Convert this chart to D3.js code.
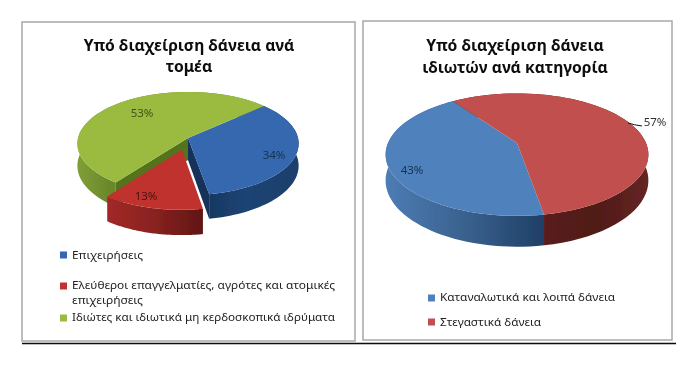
<!DOCTYPE html>
<html lang="el">
<head>
    <meta charset="UTF-8">
    <title>Υπό διαχείριση δάνεια</title>
    <script src="https://d3js.org/d3.v7.min.js"></script>
    <style>
        html, body { margin: 0; background: #fff; }
        svg { display: block; font-family: "Noto Sans", sans-serif; }
    </style>
</head>
<body>
    <div id="chart"></div>
    <script>
        // Values
        const leftCategories = ["Επιχειρήσεις", "Ελεύθεροι επαγγελματίες, αγρότες και ατομικές επιχειρήσεις", "Ιδιώτες και ιδιωτικά μη κερδοσκοπικά ιδρύματα"];
        const leftValues = [34, 13, 53];
        const leftTitle = ["Υπό διαχείριση δάνεια ανά", "τομέα"];
        const rightCategories = ["Καταναλωτικά και λοιπά δάνεια", "Στεγαστικά δάνεια"];
        const rightValues = [43, 57];
        const rightTitle = ["Υπό διαχείριση δάνεια", "ιδιωτών ανά κατηγορία"];

        const svg = d3.select("#chart").append("svg").attr("width", 700).attr("height", 373);
        const defs = svg.append("defs");
        defs.append("filter").attr("id", "soft").append("feGaussianBlur").attr("stdDeviation", 0.35);
        const root = svg.append("g").attr("filter", "url(#soft)");
        const line = d3.line();
        const rad = d => d * Math.PI / 180;

        function wallGradient(id, x0, x1, stops) {
            const g = defs.append("linearGradient").attr("id", id)
                .attr("gradientUnits", "userSpaceOnUse")
                .attr("x1", x0).attr("x2", x1).attr("y1", 0).attr("y2", 0);
            stops.forEach((c, i) => g.append("stop").attr("offset", i / (stops.length - 1)).attr("stop-color", c));
            return `url(#${id})`;
        }

        // Perspective projection of a flat disc, u is how strong the perspective is
        function projector(p) {
            return (theta, frac, shift, z) => {
                const X = frac * Math.sin(theta) + shift.x;
                const Y = frac * Math.cos(theta) + shift.y;
                const k = 1 / (1 + p.u * Y);
                return [p.cx + p.rx * X * k, p.cy - p.ry * Y * k + z * k];
            };
        }

        function drawPie(p, values, order) {
            const project = projector(p);
            const slices = d3.pie().sort(null).startAngle(rad(p.start)).endAngle(rad(p.start + 360))(values);
            const g = root.append("g");

            const pieces = slices.map((s, i) => {
                const mid = (s.startAngle + s.endAngle) / 2;
                const e = p.explode[i];
                const shift = { x: e * Math.sin(mid), y: e * Math.cos(mid) };
                const angles = d3.range(0, 61).map(j => s.startAngle + (s.endAngle - s.startAngle) * j / 60);
                const rimTop = angles.map(a => project(a, 1, shift, 0));
                const rimBottom = angles.map(a => project(a, 1, shift, p.depth)).reverse();
                const apex = project(0, 0, shift, 0);
                const apexBottom = project(0, 0, shift, p.depth);
                return { i, s, rimTop, rimBottom, apex, apexBottom };
            });

            const drawWalls = d => {
                // radial cut faces first, only where they face the viewer
                if (p.cutStart[d.i]) {
                    g.append("path").attr("fill", p.cutColor[d.i])
                        .attr("d", line([d.apex, d.rimTop[0], d.rimBottom[60], d.apexBottom]) + "Z");
                }
                if (p.cutEnd[d.i]) {
                    g.append("path").attr("fill", p.cutColor[d.i])
                        .attr("d", line([d.apex, d.rimTop[60], d.rimBottom[0], d.apexBottom]) + "Z");
                }
                g.append("path").attr("fill", p.wall[d.i])
                    .attr("d", line(d.rimTop.concat(d.rimBottom)) + "Z");
            };
            const drawTop = d => {
                g.append("path").attr("fill", p.top[d.i])
                    .attr("d", line([d.apex].concat(d.rimTop)) + "Z");
            };

            order.forEach(group => {
                group.forEach(i => drawWalls(pieces[i]));
                group.forEach(i => drawTop(pieces[i]));
            });
        }

        function drawFrame(x0, x1, y0, y1) {
            root.append("rect").attr("x", x0).attr("y", y0)
                .attr("width", x1 - x0).attr("height", y1 - y0)
                .attr("fill", "none").attr("stroke", "#a8a8a8").attr("stroke-width", 1.5);
        }

        function drawTitle(lines, x, ys) {
            lines.forEach((t, i) => root.append("text")
                .attr("x", x).attr("y", ys[i]).attr("text-anchor", "middle")
                .attr("font-size", 15.7).attr("font-weight", 700).attr("fill", "#111")
                .text(t));
        }

        function drawLabels(values, spots) {
            values.forEach((v, i) => root.append("text")
                .attr("x", spots[i][0]).attr("y", spots[i][1])
                .attr("text-anchor", "middle").attr("dominant-baseline", "middle")
                .attr("font-size", 11.5).attr("fill", spots[i][2])
                .text(v + "%"));
        }

        function drawLegend(rows, colors, x, size) {
            rows.forEach(r => {
                if (r.swatch !== undefined) {
                    root.append("rect").attr("x", x).attr("y", r.swatch - 3.5)
                        .attr("width", 7).attr("height", 7).attr("fill", colors[r.swatch_i]);
                }
                root.append("text").attr("x", x + 12).attr("y", r.y)
                    .attr("font-size", size).attr("fill", "#222")
                    .attr("textLength", r.w).attr("lengthAdjust", "spacingAndGlyphs")
                    .text(r.text);
            });
        }

        // Left pie
        drawFrame(22, 355, 22, 341);
        drawTitle(leftTitle, 189, [51, 72]);
        const leftPie = {
            cx: 188, cy: 138, rx: 110, ry: 51, u: 0.107, depth: 22, start: 47.7,
            explode: [0, 0.23, 0],
            top: ["#3568ae", "#c0322f", "#9bbb3f"],
            wall: [
                wallGradient("w0", 190, 300, ["#143257", "#1d4474", "#1b3f6c"]),
                wallGradient("w1", 100, 205, ["#a52a27", "#8a2220", "#5d1614"]),
                wallGradient("w2", 80, 110, ["#7f9d35", "#6a872b"])
            ],
            cutColor: ["#12305a", "#8a2220", "#55721f"],
            cutStart: [false, false, true],
            cutEnd: [true, false, false]
        };
        drawPie(leftPie, leftValues, [[0, 2], [1]]);
        drawLabels(leftValues, [[274, 156, "#16304f"], [146, 197, "#4a1412"], [142, 114, "#3f5214"]]);
        drawLegend([
            { swatch: 255, swatch_i: 0, y: 259, text: leftCategories[0], w: 71 },
            { swatch: 286, swatch_i: 1, y: 289, text: "Ελεύθεροι επαγγελματίες, αγρότες και ατομικές", w: 263 },
            { y: 304, text: "επιχειρήσεις", w: 71 },
            { swatch: 318, swatch_i: 2, y: 321, text: leftCategories[2], w: 263 }
        ], leftPie.top, 60, 11);

        // Right pie
        drawFrame(363, 672, 21, 340);
        drawTitle(rightTitle, 515, [51, 73]);
        const rightPie = {
            cx: 517, cy: 143, rx: 129, ry: 59, u: 0.19, depth: 25,
            // the red slice starts at -35 degrees, the blue slice comes before it
            start: -35 - rightValues[0] * 3.6,
            explode: [0, 0],
            top: ["#4f81bd", "#c0504d"],
            wall: [
                wallGradient("w3", 385, 544, ["#4d7cb4", "#3a628f", "#1f3f66"]),
                wallGradient("w4", 544, 648, ["#5a1f1c", "#4f1a18", "#652523"])
            ],
            cutColor: ["#1f3f66", "#5a1f1c"],
            cutStart: [false, false],
            cutEnd: [false, false]
        };
        drawPie(rightPie, rightValues, [[0, 1]]);
        drawLabels(rightValues, [[412, 171, "#16304f"], [655, 123, "#333"]]);
        root.append("path").attr("fill", "none").attr("stroke", "#111").attr("stroke-width", 1)
            .attr("d", "M628,123Q634,125 642,126");
        drawLegend([
            { swatch: 298, swatch_i: 0, y: 301, text: rightCategories[0], w: 175 },
            { swatch: 322, swatch_i: 1, y: 326, text: rightCategories[1], w: 101 }
        ], rightPie.top, 428, 11);

        // Rule under both charts
        root.append("line").attr("x1", 22).attr("x2", 676).attr("y1", 343.5).attr("y2", 343.5)
            .attr("stroke", "#111").attr("stroke-width", 1.5);
    </script>
</body>
</html>
